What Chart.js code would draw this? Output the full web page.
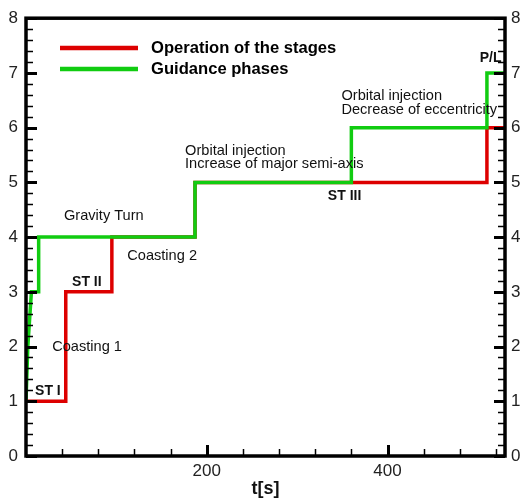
<!DOCTYPE html>
<html>
<head>
<meta charset="utf-8">
<script src="https://cdn.jsdelivr.net/npm/chart.js@4/dist/chart.umd.min.js"></script>
<style>
  html, body { margin: 0; padding: 0; background: #fff; }
  #wrap { width: 520px; height: 504px; }
</style>
</head>
<body>
<div id="wrap"><canvas id="stageChart" width="520" height="504"></canvas></div>
<script>
// stage / phase levels vs time
var tRed = [0, 44, 44, 95, 95, 187, 187, 510, 510, 530];
var yRed = [1, 1, 3, 3, 4, 4, 5, 5, 6, 6];
var tGreen = [0, 2, 6, 14, 14, 187, 187, 360, 360, 510, 510, 530];
var yGreen = [1, 2, 3, 3, 4, 4, 5, 5, 6, 6, 7, 7];
var seriesNames = ['Operation of the stages', 'Guidance phases'];
var xTickLabels = [200, 400];
var yTickLabels = [0, 1, 2, 3, 4, 5, 6, 7, 8];

// text notes in data units: [text, t, level, bold]
var notes = [
  ['ST I', 10, 1.18, true],
  ['Coasting 1', 29, 1.99, false],
  ['ST II', 51, 3.18, true],
  ['Coasting 2', 112, 3.65, false],
  ['Gravity Turn', 42, 4.39, false],
  ['Orbital injection', 176, 5.57, false],
  ['Increase of major semi-axis', 176, 5.33, false],
  ['ST III', 334, 4.75, true],
  ['Orbital injection', 349, 6.58, false],
  ['Decrease of eccentricity', 349, 6.33, false],
  ['P/L', 502, 7.27, true]
];

function main() {
  'use strict';

  var FONT = "'Liberation Sans', Arial, sans-serif";
  var RED = '#dd0000';
  var GREEN = '#11cc11';

  function pts(ts, ys) {
    return ts.map(function (t, i) { return { x: t, y: ys[i] }; });
  }

  // frame, inward ticks, notes and legend
  var decorations = {
    id: 'decorations',
    afterDatasetsDraw: function (chart) {
      var ctx = chart.ctx;
      var a = chart.chartArea;
      var xs = chart.scales.x;
      var ys = chart.scales.y;
      var v, px, py, major;

      ctx.save();
      ctx.strokeStyle = '#000';
      ctx.lineCap = 'butt';

      // y ticks on left and right
      for (v = 0; v <= 8.001; v += 0.2) {
        py = Math.round(ys.getPixelForValue(v)) + 0.5;
        major = Math.abs(v - Math.round(v)) < 0.01;
        ctx.lineWidth = major ? 3 : 1.5;
        var len = major ? 11 : 7;
        ctx.beginPath();
        ctx.moveTo(a.left, py); ctx.lineTo(a.left + len, py);
        ctx.moveTo(a.right, py); ctx.lineTo(a.right - len, py);
        ctx.stroke();
      }
      // x ticks on bottom
      for (v = 40; v <= 520; v += 40) {
        px = Math.round(xs.getPixelForValue(v)) + 0.5;
        major = v % 200 === 0;
        ctx.lineWidth = major ? 3 : 1.5;
        ctx.beginPath();
        ctx.moveTo(px, a.bottom); ctx.lineTo(px, a.bottom - (major ? 11 : 7));
        ctx.stroke();
      }
      // frame
      ctx.lineWidth = 3.5;
      ctx.strokeRect(a.left, a.top, a.right - a.left, a.bottom - a.top);

      // notes
      ctx.fillStyle = '#111';
      ctx.textAlign = 'left';
      ctx.textBaseline = 'middle';
      notes.forEach(function (n) {
        ctx.font = (n[3] ? 'bold 14px ' : '14.6px ') + FONT;
        ctx.fillText(n[0], xs.getPixelForValue(n[1]), ys.getPixelForValue(n[2]));
      });

      // legend
      chart.data.datasets.forEach(function (ds, i) {
        var ly = 48 + i * 21;
        ctx.strokeStyle = ds.borderColor;
        ctx.lineWidth = 4.5;
        ctx.beginPath();
        ctx.moveTo(60, ly); ctx.lineTo(138, ly);
        ctx.stroke();
        ctx.fillStyle = '#000';
        ctx.font = 'bold 16.6px ' + FONT;
        ctx.fillText(ds.label, 151, ly);
      });
      ctx.restore();
    }
  };

  var tickFont = { family: FONT, size: 17 };
  var ctx = document.getElementById('stageChart').getContext('2d');

  new Chart(ctx, {
    type: 'line',
    data: {
      datasets: [{
        label: seriesNames[0],
        data: pts(tRed, yRed),
        borderColor: RED,
        borderWidth: 3.5,
        pointRadius: 0,
        tension: 0,
        order: 1
      }, {
        label: seriesNames[1],
        data: pts(tGreen, yGreen),
        borderColor: GREEN,
        borderWidth: 3.5,
        pointRadius: 0,
        tension: 0,
        order: 0
      }]
    },
    options: {
      responsive: false,
      animation: false,
      layout: { padding: { top: 13, left: 0, right: 0, bottom: 0 } },
      plugins: {
        legend: { display: false },
        tooltip: { enabled: false }
      },
      scales: {
        x: {
          type: 'linear',
          min: 0,
          max: 530,
          grid: { display: false, drawTicks: false },
          border: { display: false },
          afterBuildTicks: function (s) {
            s.ticks = xTickLabels.map(function (v) { return { value: v }; });
          },
          ticks: { font: tickFont, color: '#222', padding: 5, maxRotation: 0, autoSkip: false },
          title: {
            display: true,
            text: 't[s]',
            color: '#111',
            font: { family: FONT, size: 18, weight: 'bold' },
            padding: { top: 0, bottom: 4 }
          },
          afterFit: function (s) { s.height = 48; }
        },
        y: {
          type: 'linear',
          min: 0,
          max: 8,
          grid: { display: false, drawTicks: false },
          border: { display: false },
          afterBuildTicks: function (s) {
            s.ticks = yTickLabels.map(function (v) { return { value: v }; });
          },
          ticks: { font: tickFont, color: '#222', padding: 8, autoSkip: false },
          afterFit: function (s) { s.width = 26; }
        },
        y2: {
          type: 'linear',
          position: 'right',
          min: 0,
          max: 8,
          grid: { display: false, drawTicks: false },
          border: { display: false },
          afterBuildTicks: function (s) {
            s.ticks = yTickLabels.map(function (v) { return { value: v }; });
          },
          ticks: { font: tickFont, color: '#222', padding: 6, autoSkip: false },
          afterFit: function (s) { s.width = 15; }
        }
      }
    },
    plugins: [decorations]
  });
}
main();
</script>
</body>
</html>
